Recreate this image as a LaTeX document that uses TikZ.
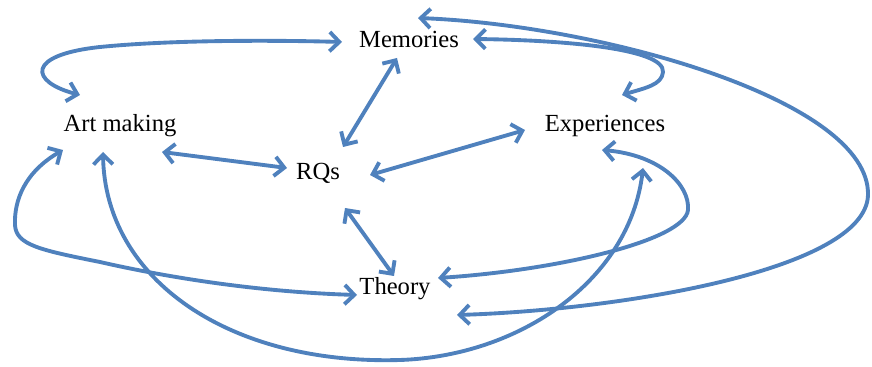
\documentclass[tikz,border=0pt]{standalone}
\usepackage{fontspec}
\setmainfont{Liberation Serif}
\usepackage{xcolor}
\usetikzlibrary{arrows.meta,calc}
\definecolor{linkblue}{RGB}{79,129,189}

\begin{document}
\begin{tikzpicture}[x=0.02cm, y=-0.02cm,
  >={Straight Barb[length=5.5pt,width=11pt]},
  word/.style={anchor=base, font=\fontsize{14}{16}\selectfont, inner sep=1pt},
  link/.style={<->, draw=linkblue, line width=2.2pt, line cap=round, line join=round},
]
\useasboundingbox (0,0) rectangle (872,367);

\node[word] (mem) at (409,48)  {Memories};
\node[word] (art) at (120,132) {Art making};
\node[word] (rqs) at (318,180) {RQs};
\node[word] (exp) at (605,132) {Experiences};
\node[word] (the) at (395,295) {Theory};

% straight links round RQs
\draw[link] ($(mem.base)+(-12,10)$) -- ($(rqs.base)+(25,-33)$);
\draw[link] ($(art.base)+(42,20)$)  -- ($(rqs.base)+(-31,-12)$);
\draw[link] ($(rqs.base)+(52,-5)$)  -- ($(exp.base)+(-80,-2)$);
\draw[link] ($(rqs.base)+(27,28)$)  -- ($(the.base)+(-1,-19)$);

% curved links
\draw[link] ($(art.base)+(-40,-37)$) .. controls (30,82) and (25,55) .. (100,47)
  .. controls (170,40) and (270,40) .. ($(mem.base)+(-67,-6)$);
\draw[link] ($(mem.base)+(64,-9)$) .. controls (560,40) and (665,48) .. (663,72)
  .. controls (662,85) and (645,88) .. ($(exp.base)+(17,-37)$);
\draw[link] ($(art.base)+(-57,18)$) .. controls (25,172) and (14,200) .. (15,225)
  .. controls (16,245) and (40,250) .. (100,262)
  .. controls (170,278) and (260,292) .. ($(the.base)+(-38,0)$);
\draw[link] ($(art.base)+(-17,20)$) .. controls (105,280) and (230,365) .. (400,360)
  .. controls (520,356) and (630,280) .. ($(exp.base)+(38,36)$);
\draw[link] ($(exp.base)+(-3,18)$) .. controls (660,155) and (690,185) .. (688,210)
  .. controls (685,240) and (560,270) .. ($(the.base)+(43,-17)$);
\draw[link] ($(mem.base)+(9,-30)$) .. controls (600,25) and (870,100) .. (868,195)
  .. controls (866,270) and (620,310) .. ($(the.base)+(62,20)$);
\end{tikzpicture}
\end{document}
